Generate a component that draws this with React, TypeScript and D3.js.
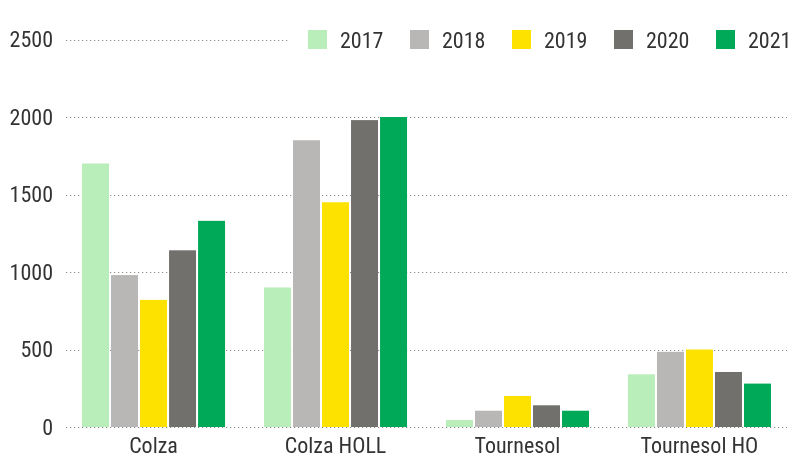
import React from "react";
import * as d3 from "d3";

const categories = ["Colza", "Colza HOLL", "Tournesol", "Tournesol HO"];
const years = ["2017", "2018", "2019", "2020", "2021"];
const values2017 = [1700, 900, 45, 340];
const values2018 = [980, 1850, 105, 485];
const values2019 = [820, 1450, 200, 500];
const values2020 = [1140, 1980, 140, 355];
const values2021 = [1330, 2000, 105, 280];
const yTicks = [0, 500, 1000, 1500, 2000, 2500];
const colors = ["#b9edb9", "#b8b7b5", "#fde200", "#72706d", "#00a957"];

const series = [values2017, values2018, values2019, values2020, values2021];

const width = 792;
const height = 459;
const font = "'Roboto Condensed', 'Liberation Sans Narrow', 'Arial Narrow', sans-serif";
const textColor = "#333333";

const App = () => {
  // outer band = crop, inner band = year
  const x0 = d3
    .scaleBand<string>()
    .domain(categories)
    .range([66, 787])
    .paddingInner(0.214)
    .paddingOuter(0.088);
  const x1 = d3
    .scaleBand<string>()
    .domain(years)
    .range([0, x0.bandwidth()])
    .paddingInner(0.07);
  const y = d3.scaleLinear().domain([0, 2500]).range([427, 39.5]);

  return (
    <div style={{ position: "fixed", left: 0, top: 0 }}>
      <svg width={width} height={height} style={{ display: "block" }}>
        {/* dotted grid + y labels */}
        <g>
          {yTicks.map((t) => (
            <g key={t}>
              <line
                x1={66}
                x2={787}
                y1={Math.round(y(t)) + 0.5}
                y2={Math.round(y(t)) + 0.5}
                stroke="#8a8a8a"
                strokeWidth={1.2}
                strokeDasharray="1.2,2.8"
              />
              <text
                x={53}
                y={y(t)}
                dy="0.36em"
                textAnchor="end"
                fontFamily={font}
                fontSize={22}
                fill={textColor}
              >
                {t}
              </text>
            </g>
          ))}
        </g>
        {/* bars */}
        <g>
          {categories.map((c, ci) => (
            <g key={c} transform={`translate(${x0(c)},0)`}>
              {years.map((yr, si) => (
                <rect
                  key={yr}
                  x={x1(yr)}
                  y={y(series[si][ci])}
                  width={x1.bandwidth()}
                  height={y(0) - y(series[si][ci])}
                  fill={colors[si]}
                />
              ))}
            </g>
          ))}
        </g>
        {/* x labels */}
        <g>
          {categories.map((c) => (
            <text
              key={c}
              x={(x0(c) ?? 0) + x0.bandwidth() / 2}
              y={453}
              textAnchor="middle"
              fontFamily={font}
              fontSize={22}
              fill={textColor}
            >
              {c}
            </text>
          ))}
        </g>
        {/* legend (white box hides the top gridline) */}
        <g>
          <rect x={290} y={20} width={502} height={40} fill="white" />
          {years.map((yr, i) => (
            <g key={yr} transform={`translate(${308 + i * 102},30)`}>
              <rect width={19} height={19} fill={colors[i]} />
              <text
                x={32}
                y={18}
                fontFamily={font}
                fontSize={22}
                fill={textColor}
              >
                {yr}
              </text>
            </g>
          ))}
        </g>
      </svg>
    </div>
  );
};

export default App;
